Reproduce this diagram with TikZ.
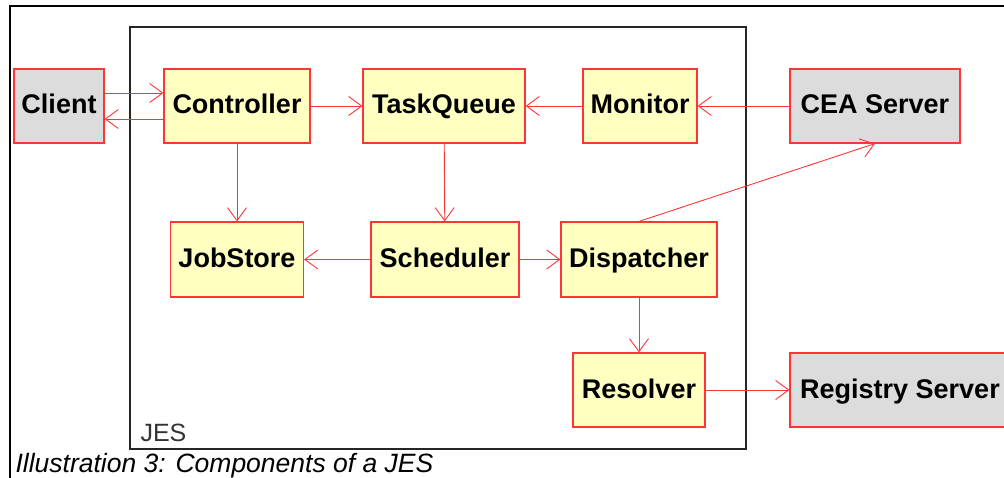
\documentclass[tikz,border=0pt]{standalone}
\usepackage{fontspec}
\setmainfont{Liberation Sans}
\usetikzlibrary{arrows.meta}
\definecolor{boxred}{HTML}{FF3535}
\definecolor{compfill}{HTML}{FFFFC2}
\definecolor{extfill}{HTML}{DCDCDC}
\tikzset{
  comp/.style={draw=boxred,line width=1.2pt,fill=compfill,inner sep=0pt,
    text height=20.5pt,text depth=4.5pt,
    minimum height=74pt,font=\bfseries\fontsize{27}{30}\selectfont},
  extsys/.style={comp,fill=extfill},
  conn/.style={boxred,line width=0.9pt,-{Straight Barb[length=13pt,width=19pt]}}
}

\begin{document}
\begin{tikzpicture}[x=1pt,y=-1pt]
  \useasboundingbox (0,0) rectangle (1004,478);
  \draw[line width=1.2pt] (10,478) -- (10,6) -- (1004,6);
  \draw[line width=1.1pt,black!85] (130,27) rectangle (746,449);
  \node[anchor=base west,text=black!80,font=\fontsize{25}{28}\selectfont] (jeslabel) at (137,441) {JES};

  \node[extsys,minimum width=90pt] (client) at (59,106) {Client};
  \node[comp,minimum width=146pt] (controller) at (237,106) {Controller};
  \node[comp,minimum width=162pt] (taskqueue) at (444,106) {TaskQueue};
  \node[comp,minimum width=114pt] (monitor) at (640,106) {Monitor};
  \node[extsys,minimum width=170pt] (cea) at (875,106) {CEA Server};
  \node[comp,minimum width=133pt,minimum height=75pt] (jobstore) at (237,259.5) {JobStore};
  \node[comp,minimum width=148pt,minimum height=75pt] (scheduler) at (445,259.5) {Scheduler};
  \node[comp,minimum width=156pt,minimum height=75pt] (dispatcher) at (639,259.5) {Dispatcher};
  \node[comp,minimum width=132pt] (resolver) at (639,390) {Resolver};
  \node[extsys,minimum width=220pt] (registry) at (900,390) {Registry Server};

  \draw[conn] ([yshift=13pt]client.east) -- ([yshift=13pt]controller.west);
  \draw[conn] ([yshift=-13pt]controller.west) -- ([yshift=-13pt]client.east);
  \draw[conn] (controller) -- (taskqueue);
  \draw[conn] (monitor) -- (taskqueue);
  \draw[conn] (cea) -- (monitor);
  \draw[conn] (controller) -- (jobstore);
  \draw[conn] (taskqueue) -- (scheduler);
  \draw[conn] (scheduler) -- (jobstore);
  \draw[conn] (scheduler) -- (dispatcher);
  \draw[conn] (dispatcher.north) -- (cea.south);
  \draw[conn] (dispatcher) -- (resolver);
  \draw[conn] (resolver) -- (registry);

  \node[anchor=base west,font=\itshape\fontsize{26.5}{29}\selectfont] (caption) at (12,472) {Illustration 3: Components of a JES};
\end{tikzpicture}
\end{document}
